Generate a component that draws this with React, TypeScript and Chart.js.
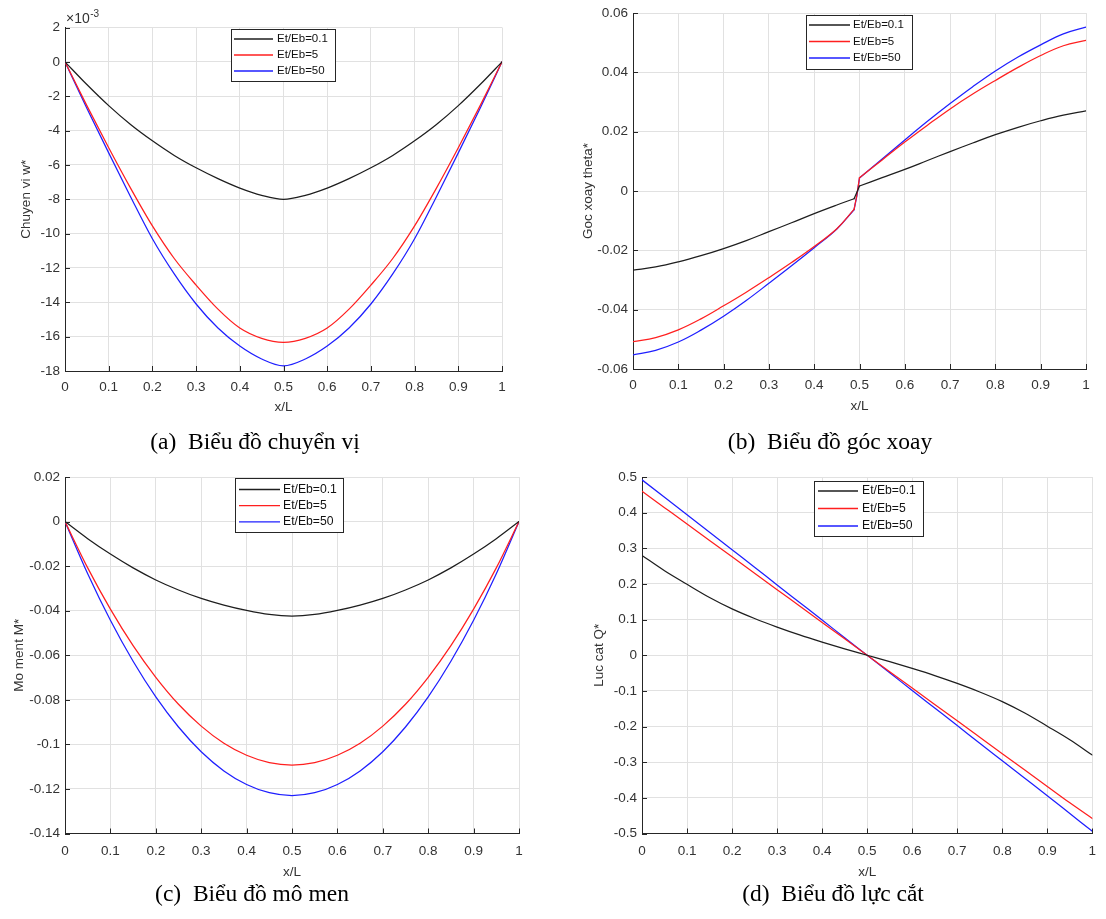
import React, { useEffect, useRef } from "react";
import { Chart, registerables } from "chart.js";

Chart.register(...registerables);

const FONT = '"Liberation Sans", Arial, Helvetica, sans-serif';
const SERIF = '"Liberation Serif", "Times New Roman", serif';
const TEXT = "#333333";
const AXIS = "#262626";
const GRID = "#e1e1e1";
const TICK_SIZE = 13.5;
const TITLE_SIZE = 13.5;

// ---------- shared ----------
const xTickValues = [0, 0.1, 0.2, 0.3, 0.4, 0.5, 0.6, 0.7, 0.8, 0.9, 1];
const xTickLabels = ["0", "0.1", "0.2", "0.3", "0.4", "0.5", "0.6", "0.7", "0.8", "0.9", "1"];
const seriesNames = ["Et/Eb=0.1", "Et/Eb=5", "Et/Eb=50"];
const seriesColors = ["#1e1e1e", "#ff1f1f", "#1f1fff"];

// ---------- (a) chuyen vi w* (x 10^-3) ----------
const xA = [0, 0.05, 0.1, 0.15, 0.2, 0.25, 0.3, 0.35, 0.4, 0.45, 0.5, 0.55, 0.6, 0.65, 0.7, 0.75, 0.8, 0.85, 0.9, 0.95, 1];
const wBlack = [0, -1.32, -2.55, -3.65, -4.6, -5.45, -6.17, -6.8, -7.35, -7.77, -8.0, -7.77, -7.35, -6.8, -6.17, -5.45, -4.6, -3.65, -2.55, -1.32, 0];
const wRed = [0, -2.55, -5.0, -7.35, -9.55, -11.45, -13.0, -14.4, -15.5, -16.1, -16.33, -16.1, -15.5, -14.4, -13.0, -11.45, -9.55, -7.35, -5.0, -2.55, 0];
const wBlue = [0, -2.7, -5.3, -7.85, -10.3, -12.35, -14.1, -15.5, -16.55, -17.3, -17.7, -17.3, -16.55, -15.5, -14.1, -12.35, -10.3, -7.85, -5.3, -2.7, 0];
const wTicks = [-18, -16, -14, -12, -10, -8, -6, -4, -2, 0, 2];
const wTickLabels = ["-18", "-16", "-14", "-12", "-10", "-8", "-6", "-4", "-2", "0", "2"];

// ---------- (b) goc xoay theta* ----------
const xB = [0, 0.05, 0.1, 0.15, 0.2, 0.25, 0.3, 0.35, 0.4, 0.45, 0.488, 0.494, 0.5, 0.55, 0.6, 0.65, 0.7, 0.75, 0.8, 0.85, 0.9, 0.95, 1];
const tBlack = [-0.0267, -0.0256, -0.0239, -0.0218, -0.0194, -0.0167, -0.0137, -0.0107, -0.0076, -0.0047, -0.0026, -0.0005, 0.0017, 0.0045, 0.0073, 0.0103, 0.0133, 0.0162, 0.019, 0.0215, 0.0237, 0.0256, 0.027];
const tRed = [-0.0508, -0.0494, -0.0468, -0.0431, -0.0387, -0.0341, -0.0292, -0.0241, -0.0187, -0.0127, -0.0062, -0.0015, 0.0045, 0.0105, 0.0165, 0.0222, 0.0277, 0.0327, 0.0373, 0.0417, 0.0457, 0.049, 0.0508];
const tBlue = [-0.0552, -0.0537, -0.0509, -0.0469, -0.0422, -0.0369, -0.0311, -0.0252, -0.0191, -0.0128, -0.0063, -0.0018, 0.0044, 0.0108, 0.0172, 0.0235, 0.0295, 0.0352, 0.0405, 0.0452, 0.0493, 0.053, 0.0553];
const tTicks = [-0.06, -0.04, -0.02, 0, 0.02, 0.04, 0.06];
const tTickLabels = ["-0.06", "-0.04", "-0.02", "0", "0.02", "0.04", "0.06"];

// ---------- (c) mo men M* ----------
const xC = [0, 0.05, 0.1, 0.15, 0.2, 0.25, 0.3, 0.35, 0.4, 0.45, 0.5, 0.55, 0.6, 0.65, 0.7, 0.75, 0.8, 0.85, 0.9, 0.95, 1];
const mBlack = [0, -0.0077, -0.0146, -0.0208, -0.0262, -0.0307, -0.0345, -0.0375, -0.0399, -0.0417, -0.0424, -0.0417, -0.0399, -0.0375, -0.0345, -0.0307, -0.0262, -0.0208, -0.0146, -0.0077, 0];
const mRed = [0, -0.0208, -0.0393, -0.0557, -0.0699, -0.082, -0.0918, -0.0995, -0.1049, -0.1082, -0.1093, -0.1082, -0.1049, -0.0995, -0.0918, -0.082, -0.0699, -0.0557, -0.0393, -0.0208, 0];
const mBlue = [0, -0.0234, -0.0443, -0.0627, -0.0787, -0.0922, -0.1033, -0.1119, -0.118, -0.1217, -0.123, -0.1217, -0.118, -0.1119, -0.1033, -0.0922, -0.0787, -0.0627, -0.0443, -0.0234, 0];
const mTicks = [-0.14, -0.12, -0.1, -0.08, -0.06, -0.04, -0.02, 0, 0.02];
const mTickLabels = ["-0.14", "-0.12", "-0.1", "-0.08", "-0.06", "-0.04", "-0.02", "0", "0.02"];

// ---------- (d) luc cat Q* ----------
const xD = [0, 0.05, 0.1, 0.15, 0.2, 0.25, 0.3, 0.35, 0.4, 0.45, 0.5, 0.55, 0.6, 0.65, 0.7, 0.75, 0.8, 0.85, 0.9, 0.95, 1];
const qBlack = [0.28, 0.237, 0.199, 0.162, 0.13, 0.103, 0.079, 0.057, 0.037, 0.018, 0, -0.018, -0.037, -0.057, -0.079, -0.103, -0.13, -0.162, -0.199, -0.237, -0.28];
const qRed = [0.46, 0.414, 0.368, 0.322, 0.276, 0.23, 0.184, 0.138, 0.092, 0.046, 0, -0.046, -0.092, -0.138, -0.184, -0.23, -0.276, -0.322, -0.368, -0.414, -0.458];
const qBlue = [0.492, 0.443, 0.394, 0.345, 0.296, 0.247, 0.197, 0.148, 0.099, 0.049, 0, -0.049, -0.099, -0.148, -0.197, -0.247, -0.296, -0.345, -0.394, -0.444, -0.494];
const qTicks = [-0.5, -0.4, -0.3, -0.2, -0.1, 0, 0.1, 0.2, 0.3, 0.4, 0.5];
const qTickLabels = ["-0.5", "-0.4", "-0.3", "-0.2", "-0.1", "0", "0.1", "0.2", "0.3", "0.4", "0.5"];

const captions = [
  { text: "(a)  Biểu đồ chuyển vị", cx: 255, cy: 441 },
  { text: "(b)  Biểu đồ góc xoay", cx: 830, cy: 441 },
  { text: "(c)  Biểu đồ mô men", cx: 252, cy: 893 },
  { text: "(d)  Biểu đồ lực cắt", cx: 833, cy: 893 },
];

type Piece = { from: number; to: number; mode: "monotone" | "bezier" | "linear" };

type Spec = {
  left: number; top: number; w: number; h: number;
  area: { l: number; t: number; r: number; b: number };
  xTickY: number; xTitleY: number; yTitleX: number;
  x: number[]; series: number[][];
  pieces: Piece[];
  yMin: number; yMax: number; yTicks: number[]; yTickLabels: string[];
  yTitle: string;
  legend: { x: number; y: number; w: number; h: number; y0: number; gap: number; lx0: number; lx1: number; tx: number; fs: number };
  exponent?: boolean;
};

const wholeCurve: Piece[] = [{ from: 0, to: 20, mode: "monotone" }];
// theta: smooth left branch, straight jump near x/L = 0.5, smooth right branch
const thetaPieces: Piece[] = [
  { from: 0, to: 10, mode: "bezier" },
  { from: 10, to: 12, mode: "linear" },
  { from: 12, to: 22, mode: "bezier" },
];

const panels: Spec[] = [
  {
    left: 0, top: 0, w: 553, h: 460,
    area: { l: 65, t: 27.5, r: 502, b: 371 },
    xTickY: 387, xTitleY: 407, yTitleX: 26,
    x: xA, series: [wBlack, wRed, wBlue], pieces: wholeCurve,
    yMin: -18, yMax: 2, yTicks: wTicks, yTickLabels: wTickLabels,
    yTitle: "Chuyen vi w*",
    legend: { x: 231, y: 29, w: 104, h: 52, y0: 39, gap: 16, lx0: 234, lx1: 273, tx: 277, fs: 11.5 },
    exponent: true,
  },
  {
    left: 553, top: 0, w: 553, h: 460,
    area: { l: 80, t: 11, r: 533, b: 369 },
    xTickY: 385.5, xTitleY: 406, yTitleX: 35,
    x: xB, series: [tBlack, tRed, tBlue], pieces: thetaPieces,
    yMin: -0.06, yMax: 0.06, yTicks: tTicks, yTickLabels: tTickLabels,
    yTitle: "Goc xoay theta*",
    legend: { x: 253, y: 15, w: 106, h: 54, y0: 25, gap: 16.5, lx0: 256, lx1: 297, tx: 300, fs: 11.5 },
  },
  {
    left: 0, top: 460, w: 553, h: 459,
    area: { l: 65, t: 17, r: 519, b: 373.5 },
    xTickY: 391.5, xTitleY: 412, yTitleX: 19,
    x: xC, series: [mBlack, mRed, mBlue], pieces: wholeCurve,
    yMin: -0.14, yMax: 0.02, yTicks: mTicks, yTickLabels: mTickLabels,
    yTitle: "Mo ment M*",
    legend: { x: 235, y: 18, w: 108, h: 54, y0: 29.5, gap: 16.2, lx0: 239, lx1: 280, tx: 283, fs: 12.2 },
  },
  {
    left: 553, top: 460, w: 553, h: 459,
    area: { l: 89, t: 17, r: 543, b: 373.5 },
    xTickY: 391.5, xTitleY: 412, yTitleX: 46,
    x: xD, series: [qBlack, qRed, qBlue], pieces: wholeCurve,
    yMin: -0.5, yMax: 0.5, yTicks: qTicks, yTickLabels: qTickLabels,
    yTitle: "Luc cat Q*",
    legend: { x: 261, y: 21, w: 109, h: 55, y0: 31, gap: 17.5, lx0: 265, lx1: 305, tx: 309, fs: 12.2 },
  },
];

const boxLegendPlugin = {
  id: "boxLegend",
  afterDraw(chart: any, _args: any, o: any) {
    if (!o || o.w == null) return;
    const ctx = chart.ctx;
    ctx.save();
    ctx.fillStyle = "#ffffff";
    ctx.fillRect(o.x, o.y, o.w, o.h);
    ctx.strokeStyle = AXIS;
    ctx.lineWidth = 1;
    ctx.strokeRect(Math.round(o.x) + 0.5, Math.round(o.y) + 0.5, Math.round(o.w), Math.round(o.h));
    ctx.font = `${o.fs}px ${FONT}`;
    ctx.textBaseline = "middle";
    ctx.textAlign = "left";
    seriesNames.forEach((name, i) => {
      const y = o.y0 + i * o.gap;
      ctx.strokeStyle = seriesColors[i];
      ctx.lineWidth = 1.3;
      ctx.beginPath();
      ctx.moveTo(o.lx0, y);
      ctx.lineTo(o.lx1, y);
      ctx.stroke();
      ctx.fillStyle = "#111111";
      ctx.fillText(name, o.tx, y);
    });
    ctx.restore();
  },
};

const extrasPlugin = {
  id: "extras",
  afterDraw(chart: any, _args: any, o: any) {
    const ctx = chart.ctx;
    const { left, bottom } = chart.chartArea;
    const xs = chart.scales.x;
    const ys = chart.scales.y;
    ctx.save();
    ctx.strokeStyle = AXIS;
    ctx.lineWidth = 1;
    ctx.beginPath();
    xs.ticks.forEach((t: any) => {
      const p = Math.round(xs.getPixelForValue(t.value)) + 0.5;
      ctx.moveTo(p, bottom);
      ctx.lineTo(p, bottom - 5);
    });
    ys.ticks.forEach((t: any) => {
      const p = Math.round(ys.getPixelForValue(t.value)) + 0.5;
      ctx.moveTo(left, p);
      ctx.lineTo(left + 5, p);
    });
    ctx.stroke();
    if (o && o.exponent) {
      ctx.fillStyle = TEXT;
      ctx.textBaseline = "middle";
      ctx.textAlign = "left";
      ctx.font = `14px ${FONT}`;
      ctx.fillText("×10", left + 1, 19.5);
      const w = ctx.measureText("×10").width;
      ctx.font = `10px ${FONT}`;
      ctx.fillText("-3", left + 1 + w + 0.5, 14.5);
    }
    ctx.restore();
  },
};

function buildConfig(spec: Spec): any {
  const tickLh = TICK_SIZE * 1.2;
  const titleLh = TITLE_SIZE * 1.2;
  const xAxisH = spec.xTitleY + titleLh / 2 - spec.area.b;
  const tickFont = { family: FONT, size: TICK_SIZE };
  const titleFont = { family: FONT, size: TITLE_SIZE };
  const datasets: any[] = [];
  spec.series.forEach((ys, i) => {
    spec.pieces.forEach((pc) => {
      const pts = [];
      for (let j = pc.from; j <= pc.to; j++) pts.push({ x: spec.x[j], y: ys[j] });
      datasets.push({
        label: seriesNames[i],
        data: pts,
        borderColor: seriesColors[i],
        backgroundColor: seriesColors[i],
        borderWidth: 1.25,
        pointRadius: 0,
        fill: false,
        cubicInterpolationMode: pc.mode === "monotone" ? "monotone" : "default",
        tension: pc.mode === "bezier" ? 0.4 : 0,
        borderCapStyle: "round",
        borderJoinStyle: "round",
      });
    });
  });
  return {
    type: "line",
    data: { datasets },
    options: {
      animation: false,
      responsive: false,
      maintainAspectRatio: false,
      events: [],
      layout: {
        padding: {
          left: 0,
          top: spec.area.t,
          right: spec.w - spec.area.r,
          bottom: spec.h - spec.area.b - xAxisH,
        },
      },
      plugins: {
        legend: { display: false },
        tooltip: { enabled: false },
        boxLegend: spec.legend,
        extras: { exponent: !!spec.exponent },
      },
      scales: {
        x: {
          type: "linear",
          min: 0,
          max: 1,
          afterBuildTicks: (s: any) => {
            s.ticks = xTickValues.map((v) => ({ value: v }));
          },
          afterFit: (s: any) => {
            s.height = xAxisH;
          },
          ticks: {
            autoSkip: false,
            maxRotation: 0,
            padding: spec.xTickY - spec.area.b - tickLh / 2,
            font: tickFont,
            color: TEXT,
            callback: (_v: any, i: number) => xTickLabels[i],
          },
          grid: { color: GRID, drawTicks: false, lineWidth: 1 },
          border: { color: AXIS, width: 1 },
          title: { display: true, text: "x/L", font: titleFont, color: TEXT, padding: 0 },
        },
        y: {
          type: "linear",
          min: spec.yMin,
          max: spec.yMax,
          afterBuildTicks: (s: any) => {
            s.ticks = spec.yTicks.map((v) => ({ value: v }));
          },
          afterFit: (s: any) => {
            s.width = spec.area.l;
          },
          ticks: {
            autoSkip: false,
            padding: 5,
            font: tickFont,
            color: TEXT,
            callback: (_v: any, i: number) => spec.yTickLabels[i],
          },
          grid: { color: GRID, drawTicks: false, lineWidth: 1 },
          border: { color: AXIS, width: 1 },
          title: {
            display: true,
            text: spec.yTitle,
            font: titleFont,
            color: TEXT,
            padding: { top: spec.yTitleX - titleLh / 2, bottom: 0 },
          },
        },
      },
    },
    plugins: [boxLegendPlugin, extrasPlugin],
  };
}

function Panel({ spec }: { spec: Spec }) {
  const ref = useRef<HTMLCanvasElement>(null);
  useEffect(() => {
    const chart = new Chart(ref.current as HTMLCanvasElement, buildConfig(spec));
    return () => chart.destroy();
  }, [spec]);
  return (
    <canvas
      ref={ref}
      width={spec.w}
      height={spec.h}
      style={{ position: "absolute", left: spec.left, top: spec.top, width: spec.w, height: spec.h }}
    />
  );
}

export default function App() {
  return (
    <div style={{ position: "absolute", left: 0, top: 0, width: 1106, height: 919, background: "#ffffff", overflow: "hidden" }}>
      {panels.map((p, i) => (
        <Panel key={i} spec={p} />
      ))}
      {captions.map((c, i) => (
        <div
          key={"cap" + i}
          style={{
            position: "absolute",
            left: c.cx - 220,
            top: c.cy - 17,
            width: 440,
            height: 34,
            lineHeight: "34px",
            textAlign: "center",
            fontFamily: SERIF,
            fontSize: 23.5,
            whiteSpace: "pre",
            color: "#000000",
          }}
        >
          {c.text}
        </div>
      ))}
    </div>
  );
}
